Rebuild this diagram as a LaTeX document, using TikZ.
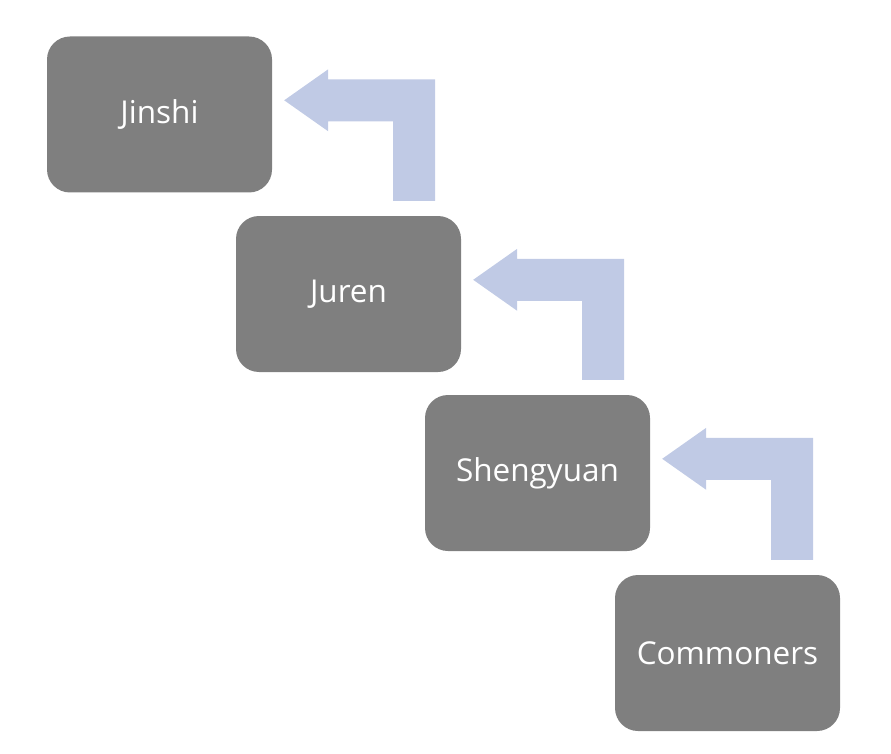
\documentclass[tikz,border=0pt]{standalone}
\usepackage{fontspec}
\setmainfont{Open Sans}
\usetikzlibrary{calc}
\definecolor{boxgray}{HTML}{7F7F7F}
\definecolor{arrowblue}{HTML}{C0CAE5}
\tikzset{
    rank/.style={fill=boxgray, rounded corners=23pt, minimum width=225pt,
        minimum height=156pt, text=white, font=\fontsize{31.5}{36}\selectfont},
    uparrow/.style={fill=arrowblue}
}
\begin{document}
\begin{tikzpicture}[x=1pt, y=-1pt]
    % Page size
    \useasboundingbox (0,0) rectangle (891,754);

    % Ranks
    \node[rank] (jinshi) at (159.5,114.5) {Jinshi};
    \node[rank] (juren)  at (348.5,294)   {Juren};
    \node[rank] (sheng)  at (537.5,473)   {Shengyuan};
    \node[rank] (common) at (727.5,653)   {Commoners};

    % Bent arrows, from the lower box up to the upper one
    \foreach \u/\l in {jinshi/juren, juren/sheng, sheng/common} {
        \coordinate (tip) at ($(\u.north east)+(12,64)$);
        \coordinate (bot) at ($(\l.north)+(0,-15)$);
        \fill[uparrow] (tip) -- ++(44,-31) -- ++(0,10) -- ++(107,0)
            coordinate (ne) -- (ne |- bot) -- ++(-42,0)
            -- ($(tip)+(109,21)$) -- ++(-65,0) -- ++(0,10) -- cycle;
    }
\end{tikzpicture}
\end{document}
